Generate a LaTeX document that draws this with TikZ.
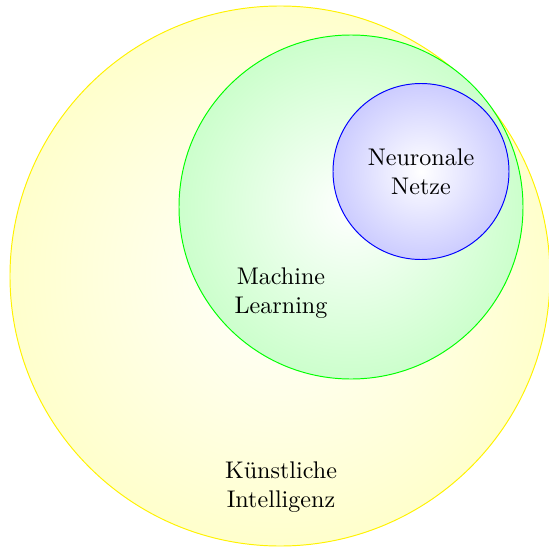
\documentclass[tikz,border=0pt]{standalone}
\begin{document}
\begin{tikzpicture}[x=0.415pt, y=-0.415pt,
  setcircle/.style={circle, inner sep=0pt, outer sep=0pt},
  lbl/.style={align=center, inner sep=0pt}]
\useasboundingbox (0,0) rectangle (549,546);
\node[setcircle, draw=yellow, inner color=white, outer color=yellow!20, minimum size=224.1pt] (ki) at (280,276) {};
\node[setcircle, draw=green, inner color=white, outer color=green!20, minimum size=142.76pt] (ml) at (351,207) {};
\node[setcircle, draw=blue, inner color=white, outer color=blue!20, minimum size=73.04pt] (nn) at (421,171.5) {};
\node[lbl] (kit) at (281,487) {Künstliche\\Intelligenz};
\node[lbl] (mlt) at (281,293) {Machine\\Learning};
\node[lbl] (nnt) at (nn) {Neuronale\\Netze};
\end{tikzpicture}
\end{document}
